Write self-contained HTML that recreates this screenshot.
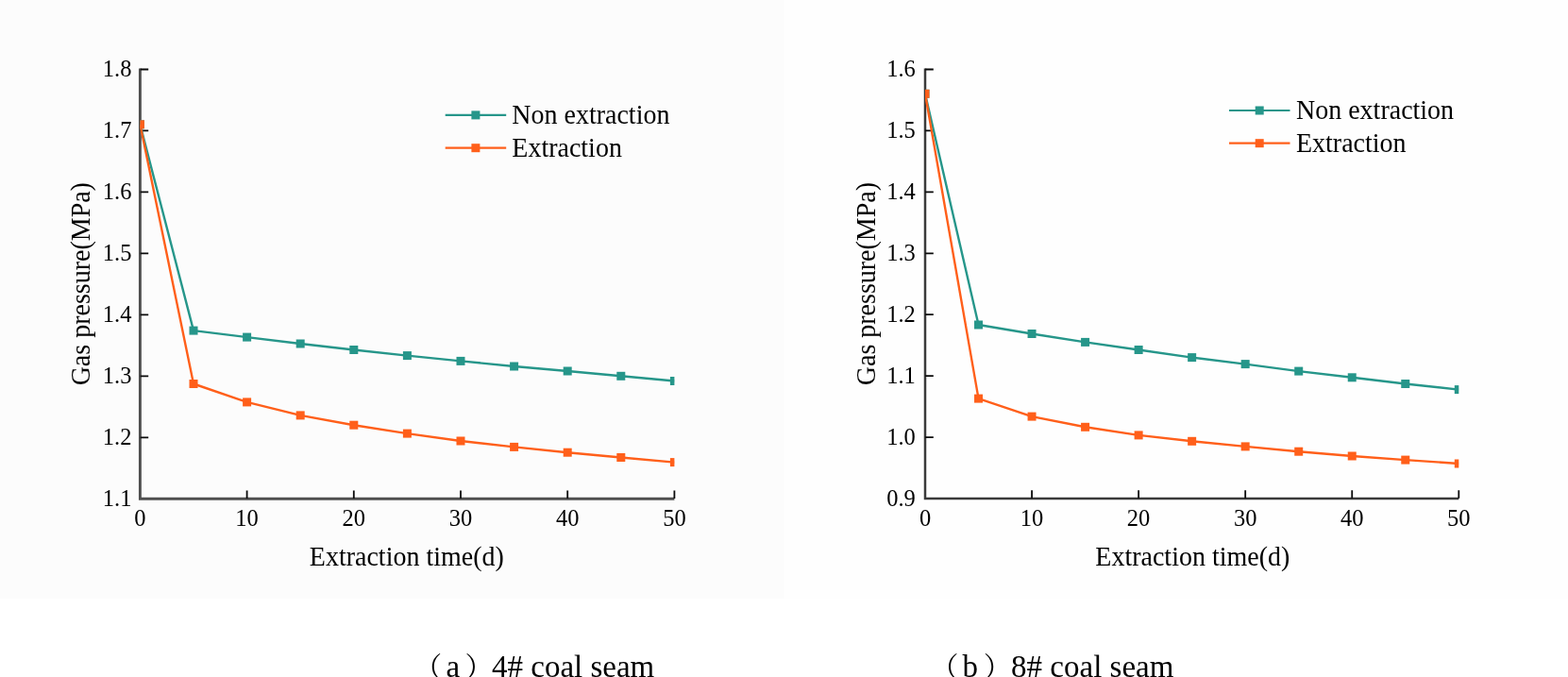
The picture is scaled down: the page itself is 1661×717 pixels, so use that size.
<!DOCTYPE html>
<html><head><meta charset="utf-8"><title>Gas pressure vs extraction time</title>
<style>
html,body{margin:0;padding:0;background:#fff;}
body{width:1661px;height:717px;overflow:hidden;}
svg{display:block;}
.tl{font-family:"Liberation Serif","Times New Roman",serif;font-size:24.5px;fill:#000;}
.al{font-family:"Liberation Serif","Times New Roman",serif;font-size:28.8px;fill:#000;}
.cap{font-family:"Liberation Serif","Noto Serif CJK SC",serif;font-size:33px;fill:#000;}
.cj{font-family:"Noto Serif CJK SC","Noto Sans CJK SC",serif;font-size:30px;}
</style></head><body>
<svg width="1661" height="717" viewBox="0 0 1661 717">
<rect x="0" y="0" width="1661" height="717" fill="#fff"/>
<rect x="0" y="0" width="830.5" height="634" fill="#fcfcfc"/>
<rect x="830.5" y="0" width="830.5" height="634" fill="#fefefe"/>
<clipPath id="clip0"><rect x="148.40" y="53.50" width="566.00" height="474.80"/></clipPath>
<path d="M148.40 72.50 V528.30 H714.40" fill="none" stroke="#4f4f4f" stroke-width="2.9" stroke-linejoin="miter"/>
<path d="M148.60 463.33 H157.20 M148.60 398.36 H157.20 M148.60 333.39 H157.20 M148.60 268.41 H157.20 M148.60 203.44 H157.20 M148.60 138.47 H157.20 M148.60 73.50 H157.20 M261.60 528.10 V519.50 M374.80 528.10 V519.50 M488.00 528.10 V519.50 M601.20 528.10 V519.50 M714.40 528.10 V519.50" stroke="#0a0a0a" stroke-width="1.8" fill="none"/>
<g clip-path="url(#clip0)"><polyline points="148.40,131.80 205.00,350.10 261.60,357.10 318.20,364.00 374.80,370.50 431.40,376.60 488.00,382.40 544.60,388.00 601.20,393.00 657.80,398.30 714.40,403.50" fill="none" stroke="#26968a" stroke-width="2.4" stroke-linejoin="round"/>
<rect x="143.90" y="127.30" width="9" height="9" fill="#26968a"/>
<rect x="200.50" y="345.60" width="9" height="9" fill="#26968a"/>
<rect x="257.10" y="352.60" width="9" height="9" fill="#26968a"/>
<rect x="313.70" y="359.50" width="9" height="9" fill="#26968a"/>
<rect x="370.30" y="366.00" width="9" height="9" fill="#26968a"/>
<rect x="426.90" y="372.10" width="9" height="9" fill="#26968a"/>
<rect x="483.50" y="377.90" width="9" height="9" fill="#26968a"/>
<rect x="540.10" y="383.50" width="9" height="9" fill="#26968a"/>
<rect x="596.70" y="388.50" width="9" height="9" fill="#26968a"/>
<rect x="653.30" y="393.80" width="9" height="9" fill="#26968a"/>
<rect x="709.90" y="399.00" width="9" height="9" fill="#26968a"/>
</g>
<g clip-path="url(#clip0)"><polyline points="148.40,131.80 205.00,406.50 261.60,425.90 318.20,439.90 374.80,450.20 431.40,459.10 488.00,467.00 544.60,473.40 601.20,479.20 657.80,484.50 714.40,489.60" fill="none" stroke="#ff5f1a" stroke-width="2.4" stroke-linejoin="round"/>
<rect x="143.90" y="127.30" width="9" height="9" fill="#ff5f1a"/>
<rect x="200.50" y="402.00" width="9" height="9" fill="#ff5f1a"/>
<rect x="257.10" y="421.40" width="9" height="9" fill="#ff5f1a"/>
<rect x="313.70" y="435.40" width="9" height="9" fill="#ff5f1a"/>
<rect x="370.30" y="445.70" width="9" height="9" fill="#ff5f1a"/>
<rect x="426.90" y="454.60" width="9" height="9" fill="#ff5f1a"/>
<rect x="483.50" y="462.50" width="9" height="9" fill="#ff5f1a"/>
<rect x="540.10" y="468.90" width="9" height="9" fill="#ff5f1a"/>
<rect x="596.70" y="474.70" width="9" height="9" fill="#ff5f1a"/>
<rect x="653.30" y="480.00" width="9" height="9" fill="#ff5f1a"/>
<rect x="709.90" y="485.10" width="9" height="9" fill="#ff5f1a"/>
</g>
<text x="139.4" y="535.8" text-anchor="end" class="tl">1.1</text>
<text x="139.4" y="470.8" text-anchor="end" class="tl">1.2</text>
<text x="139.4" y="405.9" text-anchor="end" class="tl">1.3</text>
<text x="139.4" y="340.9" text-anchor="end" class="tl">1.4</text>
<text x="139.4" y="275.9" text-anchor="end" class="tl">1.5</text>
<text x="139.4" y="210.9" text-anchor="end" class="tl">1.6</text>
<text x="139.4" y="146.0" text-anchor="end" class="tl">1.7</text>
<text x="139.4" y="81.0" text-anchor="end" class="tl">1.8</text>
<text x="148.4" y="557.3" text-anchor="middle" class="tl">0</text>
<text x="261.6" y="557.3" text-anchor="middle" class="tl">10</text>
<text x="374.8" y="557.3" text-anchor="middle" class="tl">20</text>
<text x="488.0" y="557.3" text-anchor="middle" class="tl">30</text>
<text x="601.2" y="557.3" text-anchor="middle" class="tl">40</text>
<text x="714.4" y="557.3" text-anchor="middle" class="tl">50</text>
<text transform="translate(430.8 598.9) scale(0.9722 1)" text-anchor="middle" class="al">Extraction time(d)</text>
<text transform="translate(95.0 300.7) rotate(-90) scale(0.9722 1)" text-anchor="middle" class="al">Gas pressure(MPa)</text>
<path d="M471.7 121.9 H536.2" stroke="#26968a" stroke-width="2.2"/>
<rect x="499.40" y="117.40" width="9" height="9" fill="#26968a"/>
<text transform="translate(542.3 131.1) scale(0.9722 1)" class="al">Non extraction</text>
<path d="M471.7 156.7 H536.2" stroke="#ff5f1a" stroke-width="2.2"/>
<rect x="499.40" y="152.20" width="9" height="9" fill="#ff5f1a"/>
<text transform="translate(542.3 165.9) scale(0.9722 1)" class="al">Extraction</text>
<text y="716.6" class="cap"><tspan x="438.3" class="cj">（</tspan><tspan x="472.5">a</tspan><tspan x="492.6" class="cj">）</tspan><tspan x="521.0">4# coal seam</tspan></text>
<clipPath id="clip1"><rect x="980.00" y="53.50" width="565.30" height="474.50"/></clipPath>
<path d="M980.00 72.50 V528.00 H1545.30" fill="none" stroke="#3a3a3a" stroke-width="2.5" stroke-linejoin="miter"/>
<path d="M980.20 463.07 H988.80 M980.20 398.14 H988.80 M980.20 333.21 H988.80 M980.20 268.29 H988.80 M980.20 203.36 H988.80 M980.20 138.43 H988.80 M980.20 73.50 H988.80 M1093.06 527.80 V519.20 M1206.12 527.80 V519.20 M1319.18 527.80 V519.20 M1432.24 527.80 V519.20 M1545.30 527.80 V519.20" stroke="#0a0a0a" stroke-width="1.8" fill="none"/>
<g clip-path="url(#clip1)"><polyline points="980.00,99.30 1036.53,344.00 1093.06,353.50 1149.59,362.40 1206.12,370.50 1262.65,378.60 1319.18,385.60 1375.71,393.10 1432.24,399.80 1488.77,406.50 1545.30,412.60" fill="none" stroke="#26968a" stroke-width="2.4" stroke-linejoin="round"/>
<rect x="975.50" y="94.80" width="9" height="9" fill="#26968a"/>
<rect x="1032.03" y="339.50" width="9" height="9" fill="#26968a"/>
<rect x="1088.56" y="349.00" width="9" height="9" fill="#26968a"/>
<rect x="1145.09" y="357.90" width="9" height="9" fill="#26968a"/>
<rect x="1201.62" y="366.00" width="9" height="9" fill="#26968a"/>
<rect x="1258.15" y="374.10" width="9" height="9" fill="#26968a"/>
<rect x="1314.68" y="381.10" width="9" height="9" fill="#26968a"/>
<rect x="1371.21" y="388.60" width="9" height="9" fill="#26968a"/>
<rect x="1427.74" y="395.30" width="9" height="9" fill="#26968a"/>
<rect x="1484.27" y="402.00" width="9" height="9" fill="#26968a"/>
<rect x="1540.80" y="408.10" width="9" height="9" fill="#26968a"/>
</g>
<g clip-path="url(#clip1)"><polyline points="980.00,99.30 1036.53,422.10 1093.06,441.10 1149.59,452.30 1206.12,460.90 1262.65,467.30 1319.18,472.90 1375.71,478.20 1432.24,483.00 1488.77,487.10 1545.30,491.00" fill="none" stroke="#ff5f1a" stroke-width="2.4" stroke-linejoin="round"/>
<rect x="975.50" y="94.80" width="9" height="9" fill="#ff5f1a"/>
<rect x="1032.03" y="417.60" width="9" height="9" fill="#ff5f1a"/>
<rect x="1088.56" y="436.60" width="9" height="9" fill="#ff5f1a"/>
<rect x="1145.09" y="447.80" width="9" height="9" fill="#ff5f1a"/>
<rect x="1201.62" y="456.40" width="9" height="9" fill="#ff5f1a"/>
<rect x="1258.15" y="462.80" width="9" height="9" fill="#ff5f1a"/>
<rect x="1314.68" y="468.40" width="9" height="9" fill="#ff5f1a"/>
<rect x="1371.21" y="473.70" width="9" height="9" fill="#ff5f1a"/>
<rect x="1427.74" y="478.50" width="9" height="9" fill="#ff5f1a"/>
<rect x="1484.27" y="482.60" width="9" height="9" fill="#ff5f1a"/>
<rect x="1540.80" y="486.50" width="9" height="9" fill="#ff5f1a"/>
</g>
<text x="969.8" y="535.5" text-anchor="end" class="tl">0.9</text>
<text x="969.8" y="470.6" text-anchor="end" class="tl">1.0</text>
<text x="969.8" y="405.6" text-anchor="end" class="tl">1.1</text>
<text x="969.8" y="340.7" text-anchor="end" class="tl">1.2</text>
<text x="969.8" y="275.8" text-anchor="end" class="tl">1.3</text>
<text x="969.8" y="210.9" text-anchor="end" class="tl">1.4</text>
<text x="969.8" y="145.9" text-anchor="end" class="tl">1.5</text>
<text x="969.8" y="81.0" text-anchor="end" class="tl">1.6</text>
<text x="980.0" y="557.3" text-anchor="middle" class="tl">0</text>
<text x="1093.1" y="557.3" text-anchor="middle" class="tl">10</text>
<text x="1206.1" y="557.3" text-anchor="middle" class="tl">20</text>
<text x="1319.2" y="557.3" text-anchor="middle" class="tl">30</text>
<text x="1432.2" y="557.3" text-anchor="middle" class="tl">40</text>
<text x="1545.3" y="557.3" text-anchor="middle" class="tl">50</text>
<text transform="translate(1263.3 598.9) scale(0.9722 1)" text-anchor="middle" class="al">Extraction time(d)</text>
<text transform="translate(926.7 300.6) rotate(-90) scale(0.9722 1)" text-anchor="middle" class="al">Gas pressure(MPa)</text>
<path d="M1302.0 117.0 H1366.5" stroke="#26968a" stroke-width="2.2"/>
<rect x="1329.70" y="112.50" width="9" height="9" fill="#26968a"/>
<text transform="translate(1373.0 126.2) scale(0.9722 1)" class="al">Non extraction</text>
<path d="M1302.0 151.7 H1366.5" stroke="#ff5f1a" stroke-width="2.2"/>
<rect x="1329.70" y="147.20" width="9" height="9" fill="#ff5f1a"/>
<text transform="translate(1373.0 160.9) scale(0.9722 1)" class="al">Extraction</text>
<text y="716.6" class="cap"><tspan x="985.6" class="cj">（</tspan><tspan x="1019.6">b</tspan><tspan x="1041.8" class="cj">）</tspan><tspan x="1071.1">8# coal seam</tspan></text>
</svg>
</body></html>
